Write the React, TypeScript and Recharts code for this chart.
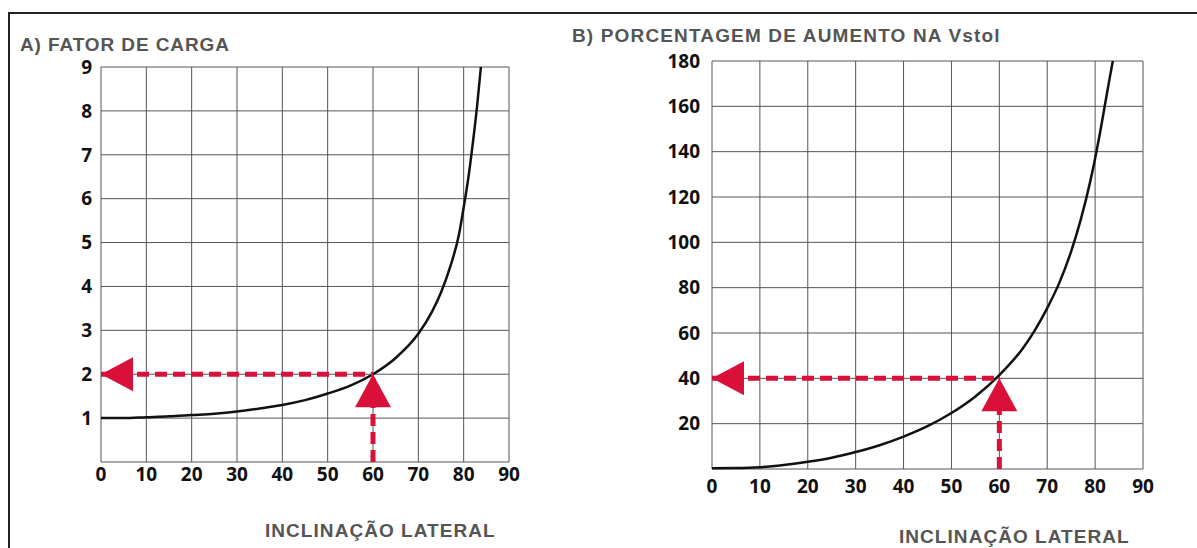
import React from 'react'
import {
  LineChart,
  Line,
  XAxis,
  YAxis,
  CartesianGrid,
  ReferenceLine,
  ReferenceDot,
} from 'recharts'

const anguloA = [0, 5, 10, 15, 20, 25, 30, 35, 40, 45, 50, 55, 60, 65, 70, 73, 75, 77, 79, 80, 81, 82, 83, 83.8]
const fatorCarga = [1, 1.0, 1.02, 1.04, 1.07, 1.1, 1.15, 1.22, 1.3, 1.41, 1.56, 1.74, 2, 2.37, 2.92, 3.42, 3.86, 4.44, 5.2, 5.8, 6.45, 7.25, 8.15, 9]

const anguloB = [0, 5, 10, 15, 20, 25, 30, 35, 40, 45, 50, 55, 60, 65, 67.5, 70, 72.5, 75, 77, 79, 80, 81, 82, 83, 83.7]
const aumentoVstol = [0.3, 0.4, 0.8, 1.8, 3.2, 5, 7.5, 10.5, 14.3, 18.9, 24.7, 32, 41.4, 53.5, 61.5, 71, 82, 96, 110, 127, 137, 148, 160, 172, 180]

const xTicks = [0, 10, 20, 30, 40, 50, 60, 70, 80, 90]
const yTicksA = [0, 1, 2, 3, 4, 5, 6, 7, 8, 9]
const yTicksB = [0, 20, 40, 60, 80, 100, 120, 140, 160, 180]

const dataA = anguloA.map((a, i) => ({ angulo: a, valor: fatorCarga[i] }))
const dataB = anguloB.map((a, i) => ({ angulo: a, valor: aumentoVstol[i] }))

const RED = '#d8103a'
const tickStyle = { fill: '#111', fontSize: 19, fontWeight: 700, fontFamily: 'Open Sans' }
const titleStyle: React.CSSProperties = {
  position: 'absolute',
  fontFamily: '"Liberation Sans", Arial, sans-serif',
  fontWeight: 'bold',
  fontSize: 19,
  color: '#555',
  whiteSpace: 'nowrap',
  lineHeight: '14px',
}

const LeftArrow = (props: any) => {
  const { cx, cy } = props
  return <polygon points={`${cx},${cy} ${cx + 32},${cy - 17} ${cx + 32},${cy + 17}`} fill={RED} />
}

const UpArrow = (props: any) => {
  const { cx, cy } = props
  return <polygon points={`${cx},${cy} ${cx - 18},${cy + 33} ${cx + 18},${cy + 33}`} fill={RED} />
}

export default function App() {
  return (
    <div style={{ position: 'absolute', left: 0, top: 0, width: 1197, height: 548, background: '#fff', overflow: 'hidden' }}>
      <div
        style={{
          position: 'absolute',
          left: 8,
          top: 12,
          width: 1200,
          height: 560,
          borderTop: '2px solid #222',
          borderLeft: '2px solid #222',
        }}
      />
      <div style={{ ...titleStyle, left: 20, top: 38, letterSpacing: 0.9 }}>A) FATOR DE CARGA</div>
      <div style={{ ...titleStyle, left: 572, top: 29, letterSpacing: 1.15 }}>B) PORCENTAGEM DE AUMENTO NA Vstol</div>
      <div style={{ ...titleStyle, left: 265, top: 524, letterSpacing: 1.05 }}>INCLINAÇÃO LATERAL</div>
      <div style={{ ...titleStyle, left: 899, top: 530, letterSpacing: 1.05 }}>INCLINAÇÃO LATERAL</div>

      <div style={{ position: 'absolute', left: 0, top: 0 }}>
        <LineChart width={560} height={548} data={dataA} margin={{ top: 67, right: 51, left: 61, bottom: 56 }}>
          <CartesianGrid stroke="#555" strokeWidth={1} />
          <XAxis
            dataKey="angulo"
            type="number"
            domain={[0, 90]}
            ticks={xTicks}
            height={30}
            tick={tickStyle}
            tickLine={false}
            axisLine={false}
            tickMargin={0}
            interval={0}
          />
          <YAxis
            type="number"
            domain={[0, 9]}
            ticks={yTicksA}
            width={40}
            tick={tickStyle}
            tickLine={false}
            axisLine={false}
            tickMargin={3}
            interval={0}
            tickFormatter={(v) => (v === 0 ? '' : String(v))}
          />
          <Line type="monotone" dataKey="valor" stroke="#111" strokeWidth={2.5} dot={false} isAnimationActive={false} />
          <ReferenceLine segment={[{ x: 0, y: 2 }, { x: 60, y: 2 }]} stroke={RED} strokeWidth={5} strokeDasharray="12 6" />
          <ReferenceLine segment={[{ x: 60, y: 0 }, { x: 60, y: 2 }]} stroke={RED} strokeWidth={5} strokeDasharray="12 6" />
          <ReferenceDot x={0} y={2} shape={LeftArrow} />
          <ReferenceDot x={60} y={2} shape={UpArrow} />
        </LineChart>
      </div>

      <div style={{ position: 'absolute', left: 560, top: 0 }}>
        <LineChart width={637} height={548} data={dataB} margin={{ top: 61, right: 54, left: 102, bottom: 49 }}>
          <CartesianGrid stroke="#555" strokeWidth={1} />
          <XAxis
            dataKey="angulo"
            type="number"
            domain={[0, 90]}
            ticks={xTicks}
            height={30}
            tick={tickStyle}
            tickLine={false}
            axisLine={false}
            tickMargin={5}
            interval={0}
          />
          <YAxis
            type="number"
            domain={[0, 180]}
            ticks={yTicksB}
            width={50}
            tick={tickStyle}
            tickLine={false}
            axisLine={false}
            tickMargin={6}
            interval={0}
            tickFormatter={(v) => (v === 0 ? '' : String(v))}
          />
          <Line type="monotone" dataKey="valor" stroke="#111" strokeWidth={2.5} dot={false} isAnimationActive={false} />
          <ReferenceLine segment={[{ x: 0, y: 40 }, { x: 60, y: 40 }]} stroke={RED} strokeWidth={5} strokeDasharray="12 6" />
          <ReferenceLine segment={[{ x: 60, y: 0 }, { x: 60, y: 40 }]} stroke={RED} strokeWidth={5} strokeDasharray="12 6" />
          <ReferenceDot x={0} y={40} shape={LeftArrow} />
          <ReferenceDot x={60} y={40} shape={UpArrow} />
        </LineChart>
      </div>
    </div>
  )
}
